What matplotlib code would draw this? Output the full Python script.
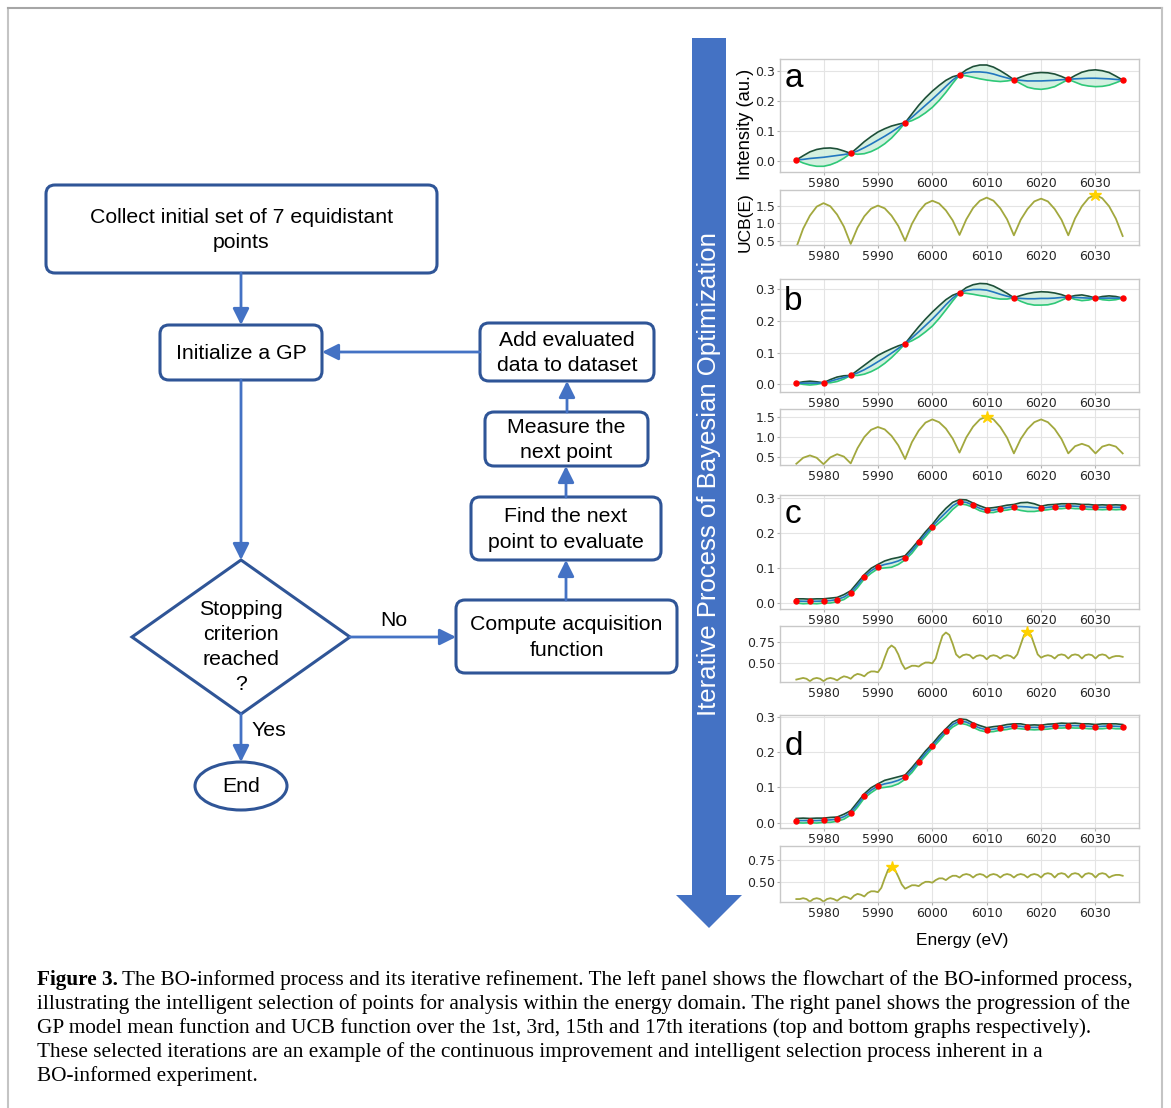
import numpy as np
import matplotlib.pyplot as plt
from matplotlib.patches import FancyBboxPatch, Polygon, Ellipse

W, H = 1171, 1108

# ---------------- data ----------------
energy = np.linspace(5975, 6035, 49)       # 1.25 eV steps
energy_fine = np.linspace(5975, 6035, 97)  # 0.625 eV steps (wiggly UCB curves)

obs_a_E = [5975, 5985, 5995, 6005, 6015, 6025, 6035]
obs_a_I = [0.003, 0.025, 0.127, 0.286, 0.270, 0.271, 0.269]
mean_a = [0.003, 0.005, 0.008, 0.010, 0.012, 0.015, 0.018, 0.021,
          0.025, 0.033, 0.044, 0.056, 0.069, 0.082, 0.096, 0.111,
          0.127, 0.145, 0.165, 0.185, 0.205, 0.226, 0.248, 0.269,
          0.286, 0.293, 0.296, 0.296, 0.294, 0.289, 0.282, 0.276,
          0.270, 0.268, 0.266, 0.266, 0.266, 0.267, 0.268, 0.270,
          0.271, 0.273, 0.274, 0.275, 0.275, 0.274, 0.273, 0.271,
          0.269]
band_a = [0, 0.012, 0.022, 0.028, 0.030, 0.028, 0.022, 0.012,
          0, 0.011, 0.020, 0.025, 0.027, 0.025, 0.020, 0.011,
          0, 0.011, 0.020, 0.025, 0.027, 0.025, 0.020, 0.011,
          0, 0.010, 0.018, 0.023, 0.025, 0.023, 0.018, 0.010,
          0, 0.011, 0.021, 0.026, 0.028, 0.026, 0.021, 0.011,
          0, 0.011, 0.021, 0.026, 0.028, 0.026, 0.021, 0.011,
          0]
ucb_a = [0.30, 0.84, 1.22, 1.48, 1.58, 1.49, 1.25, 0.90,
         0.40, 0.87, 1.20, 1.42, 1.51, 1.43, 1.22, 0.92,
         0.49, 0.98, 1.33, 1.56, 1.65, 1.57, 1.37, 1.08,
         0.66, 1.11, 1.44, 1.65, 1.74, 1.65, 1.43, 1.11,
         0.65, 1.10, 1.41, 1.63, 1.71, 1.63, 1.41, 1.10,
         0.65, 1.14, 1.49, 1.73, 1.82, 1.72, 1.49, 1.13,
         0.63]
star_a = (6030, 1.82)

obs_b_E = [5975, 5980, 5985, 5995, 6005, 6015, 6025, 6030, 6035]
obs_b_I = [0.004, 0.005, 0.028, 0.128, 0.288, 0.272, 0.274, 0.271, 0.271]
mean_b = [0.004, 0.004, 0.004, 0.004, 0.005, 0.010, 0.016, 0.022,
          0.028, 0.036, 0.046, 0.058, 0.071, 0.084, 0.098, 0.113,
          0.128, 0.146, 0.165, 0.185, 0.205, 0.227, 0.250, 0.271,
          0.288, 0.295, 0.298, 0.298, 0.296, 0.290, 0.283, 0.277,
          0.272, 0.270, 0.269, 0.269, 0.270, 0.270, 0.271, 0.273,
          0.274, 0.273, 0.272, 0.271, 0.271, 0.271, 0.271, 0.271,
          0.271]
band_b = [0, 0.004, 0.006, 0.004, 0, 0.005, 0.007, 0.005,
          0, 0.008, 0.014, 0.018, 0.020, 0.018, 0.014, 0.008,
          0, 0.009, 0.016, 0.020, 0.022, 0.020, 0.016, 0.009,
          0, 0.009, 0.015, 0.019, 0.020, 0.019, 0.015, 0.009,
          0, 0.009, 0.016, 0.020, 0.021, 0.020, 0.016, 0.009,
          0, 0.006, 0.009, 0.006, 0, 0.005, 0.007, 0.005,
          0]
ucb_b = [0.32, 0.47, 0.53, 0.47, 0.31, 0.48, 0.56, 0.50,
         0.33, 0.71, 0.99, 1.17, 1.24, 1.18, 1.02, 0.78,
         0.44, 0.86, 1.15, 1.35, 1.43, 1.36, 1.20, 0.95,
         0.60, 0.98, 1.25, 1.43, 1.50, 1.43, 1.24, 0.97,
         0.58, 0.94, 1.19, 1.36, 1.43, 1.36, 1.19, 0.94,
         0.58, 0.76, 0.82, 0.76, 0.58, 0.75, 0.80, 0.75,
         0.58]
star_b = (6010, 1.50)

obs_c_E = [5975, 5977.5, 5980, 5982.5, 5985, 5987.5, 5990, 5995, 5997.5, 6000,
           6005, 6007.5, 6010, 6012.5, 6015, 6020, 6022.5, 6025, 6027.5, 6030,
           6032.5, 6035]
obs_c_I = [0.007, 0.006, 0.007, 0.010, 0.030, 0.076, 0.105, 0.130, 0.174, 0.219,
           0.290, 0.280, 0.265, 0.270, 0.276, 0.271, 0.276, 0.278, 0.276, 0.274,
           0.274, 0.274]
mean_c = [0.007, 0.006, 0.006, 0.006, 0.007, 0.008, 0.011, 0.018,
          0.030, 0.052, 0.076, 0.093, 0.105, 0.111, 0.115, 0.121,
          0.130, 0.150, 0.174, 0.197, 0.219, 0.240, 0.259, 0.278,
          0.290, 0.288, 0.280, 0.271, 0.265, 0.266, 0.270, 0.273,
          0.276, 0.276, 0.275, 0.273, 0.271, 0.274, 0.276, 0.277,
          0.278, 0.277, 0.276, 0.275, 0.274, 0.274, 0.274, 0.274,
          0.274]
band_c = [0.006, 0.007, 0.006, 0.007, 0.006, 0.007, 0.006, 0.007,
          0.006, 0.007, 0.006, 0.007, 0.006, 0.010, 0.012, 0.010,
          0.006, 0.007, 0.006, 0.007, 0.006, 0.010, 0.012, 0.010,
          0.006, 0.007, 0.006, 0.007, 0.006, 0.007, 0.006, 0.007,
          0.006, 0.011, 0.013, 0.011, 0.006, 0.007, 0.006, 0.007,
          0.006, 0.007, 0.006, 0.007, 0.006, 0.007, 0.006, 0.007,
          0.006]
ucb_c = [0.29, 0.30, 0.31, 0.30, 0.27, 0.30, 0.31, 0.30,
         0.27, 0.30, 0.31, 0.30, 0.28, 0.31, 0.33, 0.32,
         0.30, 0.34, 0.36, 0.35, 0.33, 0.37, 0.39, 0.39,
         0.38, 0.44, 0.56, 0.67, 0.71, 0.68, 0.60, 0.49,
         0.42, 0.44, 0.46, 0.46, 0.45, 0.48, 0.50, 0.50,
         0.49, 0.55, 0.70, 0.83, 0.87, 0.84, 0.73, 0.60,
         0.56, 0.59, 0.60, 0.59, 0.55, 0.58, 0.59, 0.58,
         0.54, 0.58, 0.59, 0.58, 0.55, 0.58, 0.59, 0.58,
         0.55, 0.60, 0.72, 0.84, 0.87, 0.84, 0.72, 0.60,
         0.56, 0.58, 0.59, 0.58, 0.55, 0.59, 0.60, 0.59,
         0.55, 0.59, 0.60, 0.59, 0.55, 0.59, 0.60, 0.59,
         0.55, 0.59, 0.60, 0.59, 0.55, 0.57, 0.58, 0.58,
         0.57]
star_c = (6017.5, 0.87)

obs_d_E = [5975, 5977.5, 5980, 5982.5, 5985, 5987.5, 5990, 5995, 5997.5, 6000,
           6002.5, 6005, 6007.5, 6010, 6012.5, 6015, 6017.5, 6020, 6022.5, 6025,
           6027.5, 6030, 6032.5, 6035]
obs_d_I = [0.006, 0.006, 0.007, 0.010, 0.028, 0.076, 0.104, 0.129, 0.173, 0.217,
           0.260, 0.288, 0.276, 0.263, 0.268, 0.274, 0.270, 0.270, 0.274, 0.275,
           0.274, 0.272, 0.274, 0.272]
mean_d = [0.006, 0.006, 0.006, 0.006, 0.007, 0.008, 0.010, 0.017,
          0.028, 0.051, 0.076, 0.092, 0.104, 0.110, 0.114, 0.120,
          0.129, 0.149, 0.173, 0.196, 0.217, 0.239, 0.260, 0.278,
          0.288, 0.285, 0.276, 0.268, 0.263, 0.265, 0.268, 0.271,
          0.274, 0.273, 0.270, 0.270, 0.270, 0.272, 0.274, 0.275,
          0.275, 0.275, 0.274, 0.273, 0.272, 0.273, 0.274, 0.273,
          0.272]
band_d = [0.006, 0.007, 0.006, 0.007, 0.006, 0.007, 0.006, 0.007,
          0.006, 0.007, 0.006, 0.007, 0.006, 0.010, 0.011, 0.010,
          0.006, 0.007, 0.006, 0.007, 0.006, 0.007, 0.006, 0.007,
          0.006, 0.007, 0.006, 0.007, 0.006, 0.007, 0.006, 0.007,
          0.006, 0.007, 0.006, 0.007, 0.006, 0.007, 0.006, 0.007,
          0.006, 0.007, 0.006, 0.007, 0.006, 0.007, 0.006, 0.007,
          0.006]
ucb_d = [0.30, 0.30, 0.31, 0.30, 0.27, 0.30, 0.31, 0.30,
         0.27, 0.30, 0.31, 0.30, 0.28, 0.31, 0.33, 0.32,
         0.30, 0.34, 0.36, 0.35, 0.33, 0.37, 0.39, 0.39,
         0.38, 0.43, 0.54, 0.64, 0.67, 0.64, 0.56, 0.47,
         0.42, 0.44, 0.46, 0.46, 0.45, 0.48, 0.50, 0.50,
         0.49, 0.52, 0.54, 0.54, 0.52, 0.55, 0.57, 0.57,
         0.55, 0.58, 0.59, 0.58, 0.55, 0.58, 0.59, 0.58,
         0.55, 0.58, 0.59, 0.58, 0.55, 0.58, 0.59, 0.58,
         0.55, 0.58, 0.59, 0.58, 0.55, 0.58, 0.59, 0.58,
         0.55, 0.59, 0.60, 0.59, 0.55, 0.59, 0.60, 0.59,
         0.55, 0.59, 0.60, 0.59, 0.55, 0.59, 0.60, 0.59,
         0.55, 0.59, 0.60, 0.59, 0.55, 0.57, 0.58, 0.58,
         0.57]
star_d = (5992.5, 0.67)

x_ticks = [5980, 5990, 6000, 6010, 6020, 6030]
int_ticks = [0.0, 0.1, 0.2, 0.3]

caption = [
    "The BO-informed process and its iterative refinement. The left panel shows the flowchart of the BO-informed process,",
    "illustrating the intelligent selection of points for analysis within the energy domain. The right panel shows the progression of the",
    "GP model mean function and UCB function over the 1st, 3rd, 15th and 17th iterations (top and bottom graphs respectively).",
    "These selected iterations are an example of the continuous improvement and intelligent selection process inherent in a",
    "BO-informed experiment.",
]

# ---------------- figure ----------------
fig = plt.figure(figsize=(W / 100, H / 100), dpi=100)
ax0 = fig.add_axes([0, 0, 1, 1])
ax0.set_xlim(0, W)
ax0.set_ylim(H, 0)
ax0.axis("off")

# page frame
ax0.plot([8, 8], [8, H], color="#c4c4c4", lw=1.5)
ax0.plot([8, 1162], [8, 8], color="#a6a6a6", lw=1.5)
ax0.plot([1162, 1162], [8, H], color="#c4c4c4", lw=1.5)

box_edge = "#2f5597"
arrow_col = "#4472c4"
ff = "Liberation Sans"
fs = 15.3

boxes = [
    ("Collect initial set of 7 equidistant\npoints", 46, 185, 437, 273),
    ("Initialize a GP", 160, 325, 322, 380),
    ("Add evaluated\ndata to dataset", 480, 323, 654, 381),
    ("Measure the\nnext point", 485, 412, 648, 466),
    ("Find the next\npoint to evaluate", 471, 497, 661, 560),
    ("Compute acquisition\nfunction", 456, 600, 677, 673),
]
for txt, l, t, r, b in boxes:
    ax0.add_patch(FancyBboxPatch((l + 9, t + 9), r - l - 18, b - t - 18,
                                 boxstyle="round,pad=9", fc="white",
                                 ec=box_edge, lw=2.2))
    ax0.text((l + r) / 2, (t + b) / 2 + 1, txt, ha="center", va="center",
             fontsize=fs, family=ff, linespacing=1.4)

ax0.add_patch(Polygon([(241, 560), (350, 637), (241, 714), (132, 637)],
                      closed=True, fc="white", ec=box_edge, lw=2.2))
ax0.text(241, 647, "Stopping\ncriterion\nreached\n?", ha="center", va="center",
         fontsize=fs, family=ff, linespacing=1.38)
ax0.add_patch(Ellipse((241, 786), 92, 48, fc="white", ec=box_edge, lw=2.2))
ax0.text(241, 787, "End", ha="center", va="center", fontsize=fs, family=ff)
ax0.text(394, 621, "No", ha="center", va="center", fontsize=fs, family=ff)
ax0.text(269, 730, "Yes", ha="center", va="center", fontsize=fs, family=ff)

arrows = [((241, 273), (241, 325)), ((480, 352), (322, 352)),
          ((241, 380), (241, 560)), ((350, 637), (456, 637)),
          ((241, 714), (241, 762)), ((566, 600), (566, 560)),
          ((566, 497), (566, 466)), ((567, 412), (567, 381))]
for start, end in arrows:
    ax0.annotate("", xy=end, xytext=start,
                 arrowprops=dict(arrowstyle="-|>,head_length=0.7,head_width=0.35",
                                 color=arrow_col, lw=2.0, mutation_scale=14,
                                 shrinkA=0, shrinkB=0))

# big iteration arrow
ax0.add_patch(Polygon([(692, 38), (726, 38), (726, 895), (742, 895), (709, 928),
                       (676, 895), (692, 895)], closed=True, fc="#4472c4", ec="none"))
ax0.text(709, 474, "Iterative Process of Bayesian Optimization", rotation=90,
         ha="center", va="center", color="white", fontsize=18.5, family=ff)

# ---------------- GP panels ----------------
def px_axes(top, bottom, left=780, right=1139):
    return fig.add_axes([left / W, 1 - bottom / H, (right - left) / W, (bottom - top) / H])


def style(ax):
    for s in ax.spines.values():
        s.set_color("#c8c8c8")
        s.set_linewidth(1.0)
    ax.grid(True, color="#e4e4e4", lw=0.8)
    ax.set_axisbelow(True)
    ax.tick_params(labelsize=9, length=2, width=0.8, color="#b0b0b0",
                   pad=1.5, labelcolor="#262626")
    ax.set_xlim(5972, 6038)
    ax.set_xticks(x_ticks)


panels = [
    ("a", 59, 172, 190, 245, mean_a, band_a, obs_a_E, obs_a_I, energy, ucb_a, star_a,
     (-0.037, 0.339), (0.37, 1.96), [0.5, 1.0, 1.5], 0.755),
    ("b", 279, 392, 409, 465, mean_b, band_b, obs_b_E, obs_b_I, energy, ucb_b, star_b,
     (-0.024, 0.331), (0.29, 1.69), [0.5, 1.0, 1.5], 0.726),
    ("c", 495, 609, 626, 682, mean_c, band_c, obs_c_E, obs_c_I, energy_fine, ucb_c, star_c,
     (-0.016, 0.309), (0.26, 0.95), [0.5, 0.75], 0.754),
    ("d", 715, 828, 846, 902, mean_d, band_d, obs_d_E, obs_d_I, energy_fine, ucb_d, star_d,
     (-0.015, 0.305), (0.266, 0.915), [0.5, 0.75], 0.646),
]

for (lab, t1, b1, t2, b2, mean, band, oE, oI, uE, ucb, star,
     ylim1, ylim2, uticks, lab_y) in panels:
    m = np.array(mean)
    s = np.array(band)
    ax = px_axes(t1, b1)
    style(ax)
    ax.fill_between(energy, m - s, m + s, color="#cdeedb", alpha=0.85, lw=0)
    ax.plot(energy, m + s, color="#1d4f38", lw=1.2)
    ax.plot(energy, m - s, color="#2fc878", lw=1.2)
    ax.plot(energy, m, color="#2277c0", lw=1.2)
    ax.plot(oE, oI, "o", color="#ff0000", ms=3.6, zorder=5)
    ax.set_ylim(*ylim1)
    ax.set_yticks(int_ticks)
    ax.set_yticklabels(["0.0", "0.1", "0.2", "0.3"])
    ax.text(0.012, lab_y, lab, transform=ax.transAxes, fontsize=24,
            family=ff, va="baseline", ha="left")

    ax2 = px_axes(t2, b2)
    style(ax2)
    ax2.plot(uE, ucb, color="#a2a83e", lw=1.3)
    ax2.plot(*star, marker="*", color="#ffd200", ms=9, zorder=5)
    ax2.set_ylim(*ylim2)
    ax2.set_yticks(uticks)
    if lab in ("c", "d"):
        ax2.set_yticklabels(["0.50", "0.75"])

fig.text(745 / W, 1 - 124 / H, "Intensity (au.)", rotation=90, ha="center",
         va="center", fontsize=13.2, family=ff)
fig.text(745 / W, 1 - 222 / H, "UCB(E)", rotation=90, ha="center",
         va="center", fontsize=12.5, family=ff)
fig.text(962 / W, 1 - 940 / H, "Energy (eV)", ha="center", va="center",
         fontsize=12.4, family=ff)

# ---------------- caption ----------------
cap_y = [980, 1004, 1028, 1052, 1076]
cap_font = "Liberation Serif"
cap_fs = 15.3
t_bold = ax0.text(37, cap_y[0], "Figure 3.", fontsize=cap_fs, family=cap_font,
                  weight="bold", va="center", ha="left")
ax0.annotate(caption[0], xy=(1, 0.5), xycoords=t_bold, xytext=(4, 0),
             textcoords="offset pixels", va="center", ha="left",
             fontsize=cap_fs, family=cap_font)
for line, y in zip(caption[1:], cap_y[1:]):
    ax0.text(37, y, line, fontsize=cap_fs, family=cap_font, va="center", ha="left")

fig.savefig("out.png", dpi=100)
